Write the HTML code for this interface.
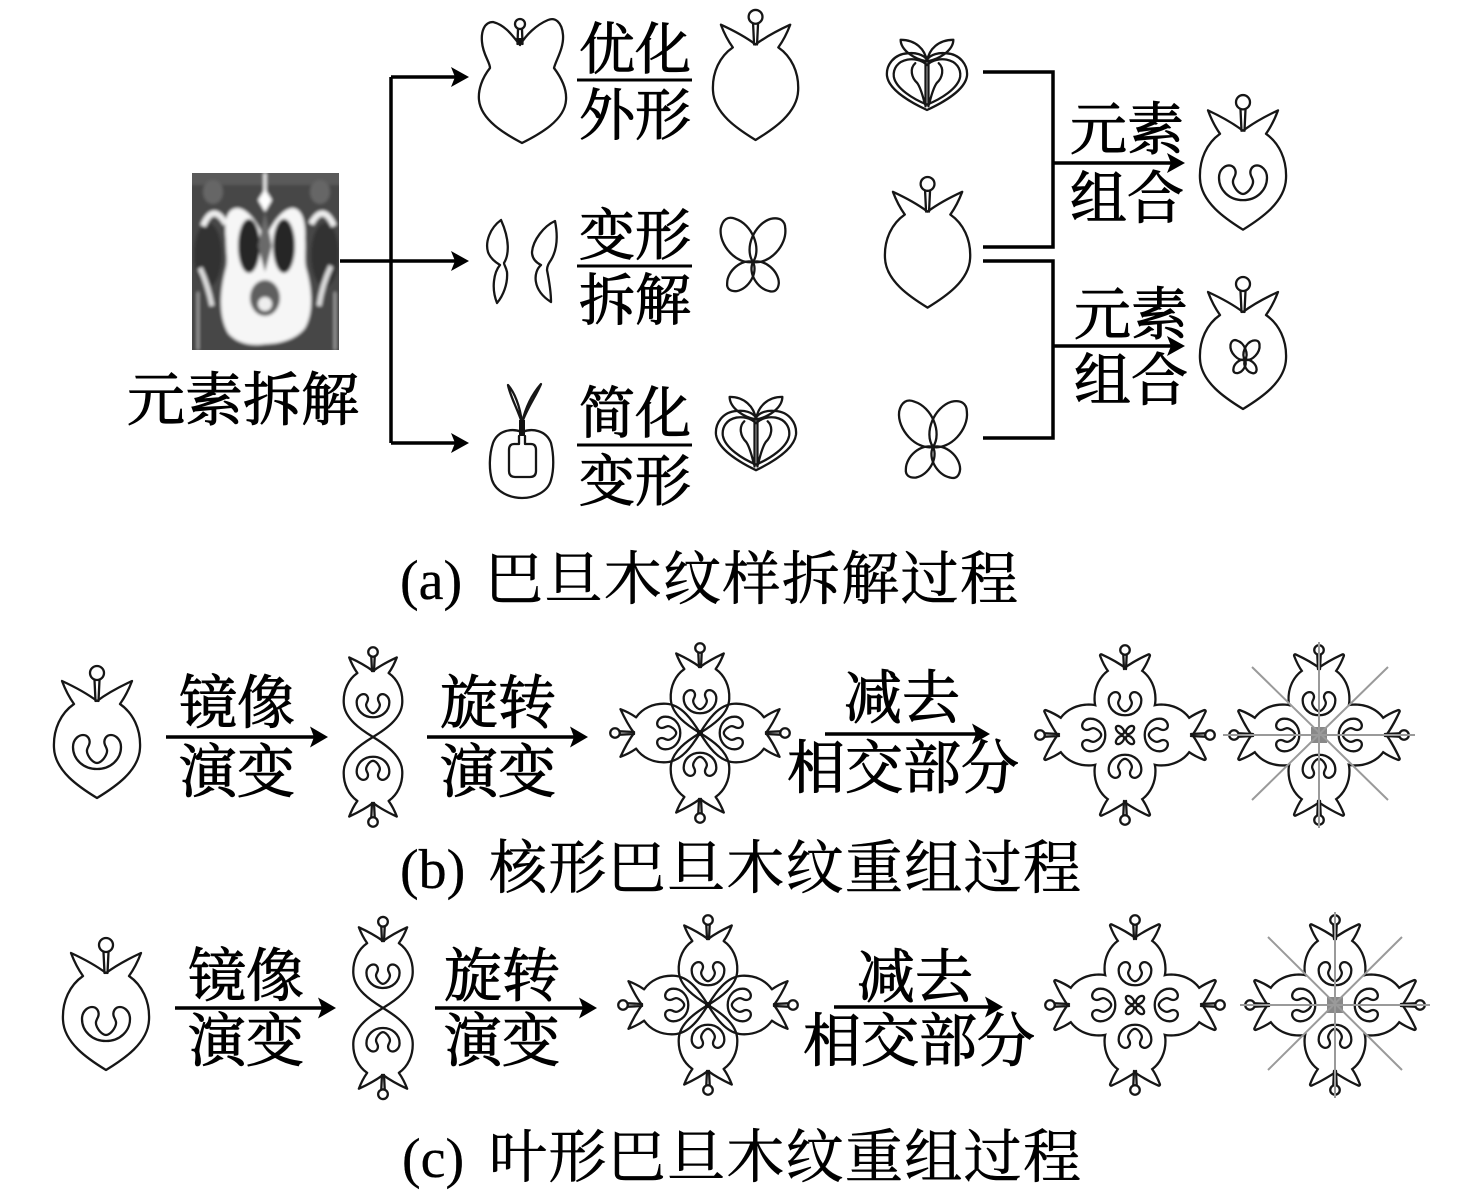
<!DOCTYPE html>
<html><head><meta charset="utf-8">
<style>
html,body{margin:0;padding:0;background:#fff;}
svg{display:block;}
.ln{fill:none;stroke:#161616;stroke-width:2.3;stroke-linejoin:round;stroke-linecap:round}
.wf{fill:#fff;stroke:none}
.th{fill:none;stroke:#161616;stroke-width:4.6;stroke-linejoin:round}
.bl{fill:none;stroke:#000;stroke-width:3.5}
.ah{fill:#000;stroke:none}
.t{font-family:"Liberation Serif","Noto Serif CJK SC",serif;fill:#000;stroke:#000;stroke-width:1}
.c{font-family:"Liberation Serif","Noto Serif CJK SC",serif;fill:#000;stroke:#000;stroke-width:0.6}
.gl{stroke:#9a9a9a;stroke-width:2;fill:none}
</style></head>
<body>
<svg width="1464" height="1204" viewBox="0 0 1464 1204" xmlns="http://www.w3.org/2000/svg">
<defs>
  <path id="fo" vector-effect="non-scaling-stroke" d="M44,38 C36,32 22,24 9,18 C12,26 16,34 21,41 C8,50 0,66 1,85 C2,108 26,124 44,135 C62,124 86,108 87,85 C88,66 80,50 67,41 C72,34 76,26 79,18 C66,24 52,32 44,38 Z"/>
  <g id="stem">
    <circle vector-effect="non-scaling-stroke" cx="44" cy="10" r="7"/>
    <path vector-effect="non-scaling-stroke" d="M41.5,17 L42.5,38 M46.5,17 L45.5,38"/>
  </g>
  <path id="curl" vector-effect="non-scaling-stroke" d="M44,106 C30,106 20,96 20,84 C20,76 26,72 30,72 C35,72 38,77 36,82 C34,86 33,88 35,92 C38,98 42,100 44,100 C46,100 50,98 53,92 C55,88 54,86 52,82 C50,77 53,72 58,72 C62,72 68,76 68,84 C68,96 58,106 44,106 Z"/>
  <g id="fruit"><use href="#fo"/><use href="#stem"/></g>
  <g id="fruitc"><use href="#fo"/><use href="#stem"/><use href="#curl"/></g>
  <path id="pt" vector-effect="non-scaling-stroke" d="M0,0 C6,-14 30,-18 42,-8 C48,-2 48,4 42,8 C30,18 6,14 0,0 Z"/>
  <g id="bfly">
    <use href="#pt" transform="rotate(-123) scale(1.09)"/>
    <use href="#pt" transform="rotate(-57) scale(1.09)"/>
    <use href="#pt" transform="rotate(130) scale(0.78)"/>
    <use href="#pt" transform="rotate(50) scale(0.78)"/>
  </g>
  <g id="heart">
    <path vector-effect="non-scaling-stroke" d="M42,26 C30,24 15,14 15,2 C30,2 40,12 42,26 Z"/>
    <path vector-effect="non-scaling-stroke" d="M42,26 C54,24 69,14 69,2 C54,2 44,12 42,26 Z"/>
    <path vector-effect="non-scaling-stroke" d="M42,24 C38,18 30,16 22,17 C8,18 0,30 1,42 C3,58 26,72 42,80 C58,72 81,58 83,42 C84,30 76,18 62,17 C54,16 46,18 42,24 Z"/>
    <path vector-effect="non-scaling-stroke" d="M42,30 C36,24 28,23 22,24 C12,26 7,34 8,43 C10,56 28,68 42,74 C56,68 74,56 76,43 C77,34 72,26 62,24 C56,23 48,24 42,30 Z"/>
    <path vector-effect="non-scaling-stroke" d="M30,28 C24,34 26,44 32,50 C36,56 38,66 40,74 M54,28 C60,34 58,44 52,50 C48,56 46,66 44,74 M40.5,28 V76 M43.5,28 V76"/>
  </g>
  <clipPath id="pc"><rect x="192" y="173" width="147" height="177"/></clipPath>
  <filter id="blur" x="-5%" y="-5%" width="110%" height="110%"><feGaussianBlur stdDeviation="1.6"/></filter>
</defs>

<!-- ================= (a) ================= -->
<g clip-path="url(#pc)">
 <g filter="url(#blur)">
  <rect x="188" y="169" width="155" height="185" fill="#464646"/>
  <rect x="188" y="169" width="155" height="16" fill="#5a5a5a"/>
  <ellipse cx="208" cy="255" rx="14" ry="32" fill="#333"/>
  <ellipse cx="325" cy="255" rx="14" ry="32" fill="#333"/>
  <ellipse cx="213" cy="192" rx="10" ry="12" fill="#666"/>
  <ellipse cx="320" cy="192" rx="10" ry="12" fill="#666"/>
  <path d="M203,226 Q213,202 226,224" stroke="#eee" stroke-width="6" fill="none"/>
  <path d="M311,224 Q323,202 334,226" stroke="#eee" stroke-width="6" fill="none"/>
  <path d="M200,268 Q208,285 212,306" stroke="#ddd" stroke-width="5" fill="none"/>
  <path d="M331,266 Q322,285 319,306" stroke="#ddd" stroke-width="5" fill="none"/>
  <path d="M198,292 V350 M335,292 V350" stroke="#aaa" stroke-width="2"/>
  <path d="M265,238 C258,225 250,210 238,208 C226,208 224,222 226,240 C226,252 228,260 226,268 C220,290 218,315 228,333 C238,345 255,346 265,344 C278,344 296,340 305,328 C314,312 312,288 306,268 C304,258 306,250 305,238 C306,222 302,208 292,208 C280,210 272,225 265,238 Z" fill="#f6f6f6"/>
  <path d="M265,173 V205" stroke="#eee" stroke-width="3"/>
  <polygon points="265,189 272,200 265,212 258,200" fill="#fff"/>
  <ellipse cx="249" cy="246" rx="11" ry="27" fill="#262626"/>
  <ellipse cx="284" cy="246" rx="11" ry="27" fill="#262626"/>
  <path d="M265,212 L258,246 L265,272 L272,246 Z" fill="#6a6a6a"/>
  <ellipse cx="265" cy="298" rx="15" ry="18" fill="#5e5e5e"/>
  <ellipse cx="265" cy="304" rx="7" ry="7" fill="#eee"/>
 </g>
</g>

<path class="bl" d="M340,261 H458 M391,77 V443 M391,77 H458 M391,443 H458"/>
<polygon class="ah" points="451,251 469,261 451,271 455,261"/>
<polygon class="ah" points="451,67 469,77 451,87 455,77"/>
<polygon class="ah" points="451,433 469,443 451,453 455,443"/>

<g class="ln">
  <path d="M520,45 C512,35 505,25 493,22 C484,22 481,32 482,42 C483,55 490,62 490,68 C482,78 478,90 479,100 C481,120 505,134 522,143 C540,134 565,120 566,100 C567,88 560,76 554,68 C556,60 564,48 563,35 C562,22 555,17 548,20 C536,25 526,35 520,45 Z"/>
  <circle cx="520" cy="24" r="5"/>
  <path d="M518,29 L517.5,44 M522,29 L522.5,44"/>
  <path d="M501,220 C490,228 485,242 488,252 C490,258 495,262 500,265 C494,272 491,288 497,303 C503,296 508,284 507,272 C506,267 504,265 504,263 C509,255 510,240 501,220 Z"/>
  <path d="M555,221 C544,226 533,240 532,252 C532,259 537,263 541,265 C533,272 532,290 551,302 C551,292 549,280 547,270 C547,266 549,263 551,260 C557,250 558,236 555,221 Z"/>
  <path d="M522,423 C518,410 510,396 508,385 C514,392 520,405 522,423 Z"/>
  <path d="M522,423 C526,410 536,396 541,384 C534,392 526,405 522,423 Z"/>
  <path d="M522,432 C512,428 498,430 493,443 C489,455 489,470 492,480 C496,492 510,498 522,498 C534,498 548,492 551,480 C554,470 554,455 551,443 C546,430 532,428 522,432 Z"/>
  <path d="M519,436 V444 H514 Q509,444 509,450 V471 Q509,477 515,477 H530 Q536,477 536,471 V450 Q536,444 531,444 H525 V436"/>
</g>
<polygon points="516,38 524,38 520,46" fill="#111"/>
<rect x="519" y="420" width="6" height="16" fill="#111"/>

<g class="ln">
  <use href="#fruit" transform="translate(712,7) scale(0.99,0.985)"/>
  <use href="#bfly" transform="translate(753,262)"/>
  <use href="#heart" transform="translate(715,395) scale(0.976,0.94)"/>
</g>

<g class="t" font-size="56" text-anchor="middle">
  <text x="635" y="69">优化</text>
  <text x="635" y="135">外形</text>
  <text x="635" y="255">变形</text>
  <text x="635" y="320">拆解</text>
  <text x="635" y="433">简化</text>
  <text x="635" y="501">变形</text>
</g>
<path d="M577,80 H692 M577,266 H692 M577,445 H692" stroke="#000" stroke-width="3"/>
<text class="t" font-size="58" x="243" y="420" text-anchor="middle">元素拆解</text>

<g class="ln">
  <use href="#heart" transform="translate(886,38) scale(0.976,0.9)"/>
  <use href="#fruit" transform="translate(884,174) scale(0.99,0.99)"/>
  <use href="#bfly" transform="translate(933,447) scale(1.05)"/>
  <use href="#fruitc" transform="translate(1199,92) scale(1,1.02)"/>
  <use href="#fruit" transform="translate(1199,274) scale(1,1)"/>
  <use href="#bfly" transform="translate(1245,360) scale(0.45)"/>
</g>
<path class="bl" d="M983,72 H1053 V247 H983 M983,261 H1053 V438 H983 M1053,163 H1172 M1053,346 H1172"/>
<polygon class="ah" points="1167,153 1185,163 1167,173 1171,163"/>
<polygon class="ah" points="1167,336 1185,346 1167,356 1171,346"/>
<g class="t" font-size="57" text-anchor="middle">
  <text x="1127" y="149">元素</text>
  <text x="1127" y="218">组合</text>
  <text x="1131" y="334">元素</text>
  <text x="1131" y="400">组合</text>
</g>

<text class="c" font-size="56" x="400" y="599" style="stroke-width:0.3">(a)</text>
<text class="c" font-size="58" x="485" y="599" textLength="533" lengthAdjust="spacing">巴旦木纹样拆解过程</text>

<!-- ================= (b) ================= -->
<g class="ln">
  <use href="#fruitc" transform="translate(53,663)"/>
  <use href="#fruitc" transform="translate(373,737) rotate(0) scale(0.68) translate(-44,-135)"/>
  <use href="#fruitc" transform="translate(373,737) rotate(180) scale(0.68) translate(-44,-135)"/>
  <use href="#fruitc" transform="translate(700,733) rotate(0) scale(0.68) translate(-44,-135)"/>
  <use href="#fruitc" transform="translate(700,733) rotate(90) scale(0.68) translate(-44,-135)"/>
  <use href="#fruitc" transform="translate(700,733) rotate(180) scale(0.68) translate(-44,-135)"/>
  <use href="#fruitc" transform="translate(700,733) rotate(270) scale(0.68) translate(-44,-135)"/>
</g>
<circle cx="700" cy="733" r="3" fill="#111"/>

<g class="th">
  <use href="#fo" transform="translate(1125,735) rotate(0) scale(0.68) translate(-44,-135)"/>
  <use href="#fo" transform="translate(1125,735) rotate(90) scale(0.68) translate(-44,-135)"/>
  <use href="#fo" transform="translate(1125,735) rotate(180) scale(0.68) translate(-44,-135)"/>
  <use href="#fo" transform="translate(1125,735) rotate(270) scale(0.68) translate(-44,-135)"/>
</g>
<g class="wf">
  <use href="#fo" transform="translate(1125,735) rotate(0) scale(0.68) translate(-44,-135)"/>
  <use href="#fo" transform="translate(1125,735) rotate(90) scale(0.68) translate(-44,-135)"/>
  <use href="#fo" transform="translate(1125,735) rotate(180) scale(0.68) translate(-44,-135)"/>
  <use href="#fo" transform="translate(1125,735) rotate(270) scale(0.68) translate(-44,-135)"/>
</g>
<g class="ln">
  <g transform="translate(1125,735) rotate(0) scale(0.68) translate(-44,-135)"><use href="#stem"/><use href="#curl"/></g>
  <g transform="translate(1125,735) rotate(90) scale(0.68) translate(-44,-135)"><use href="#stem"/><use href="#curl"/></g>
  <g transform="translate(1125,735) rotate(180) scale(0.68) translate(-44,-135)"><use href="#stem"/><use href="#curl"/></g>
  <g transform="translate(1125,735) rotate(270) scale(0.68) translate(-44,-135)"><use href="#stem"/><use href="#curl"/></g>
  <g transform="translate(1125,735)">
    <ellipse cx="5" cy="-5" rx="5" ry="3" transform="rotate(-45 5 -5)"/>
    <ellipse cx="-5" cy="-5" rx="5" ry="3" transform="rotate(45 -5 -5)"/>
    <ellipse cx="5" cy="5" rx="5" ry="3" transform="rotate(45 5 5)"/>
    <ellipse cx="-5" cy="5" rx="5" ry="3" transform="rotate(-45 -5 5)"/>
  </g>
</g>

<g class="th">
  <use href="#fo" transform="translate(1319,735) rotate(0) scale(0.68) translate(-44,-135)"/>
  <use href="#fo" transform="translate(1319,735) rotate(90) scale(0.68) translate(-44,-135)"/>
  <use href="#fo" transform="translate(1319,735) rotate(180) scale(0.68) translate(-44,-135)"/>
  <use href="#fo" transform="translate(1319,735) rotate(270) scale(0.68) translate(-44,-135)"/>
</g>
<g class="wf">
  <use href="#fo" transform="translate(1319,735) rotate(0) scale(0.68) translate(-44,-135)"/>
  <use href="#fo" transform="translate(1319,735) rotate(90) scale(0.68) translate(-44,-135)"/>
  <use href="#fo" transform="translate(1319,735) rotate(180) scale(0.68) translate(-44,-135)"/>
  <use href="#fo" transform="translate(1319,735) rotate(270) scale(0.68) translate(-44,-135)"/>
</g>
<g class="ln">
  <g transform="translate(1319,735) rotate(0) scale(0.68) translate(-44,-135)"><use href="#stem"/><use href="#curl"/></g>
  <g transform="translate(1319,735) rotate(90) scale(0.68) translate(-44,-135)"><use href="#stem"/><use href="#curl"/></g>
  <g transform="translate(1319,735) rotate(180) scale(0.68) translate(-44,-135)"><use href="#stem"/><use href="#curl"/></g>
  <g transform="translate(1319,735) rotate(270) scale(0.68) translate(-44,-135)"><use href="#stem"/><use href="#curl"/></g>
</g>
<rect x="1311" y="727" width="16" height="16" fill="#888"/>
<path class="gl" d="M1223,735 H1415 M1319,642 V828 M1252,667 L1388,800 M1388,667 L1252,800"/>

<path class="bl" d="M166,737 H315 M427,737 H575 M825,734 H977"/>
<polygon class="ah" points="310,726.5 328,737 310,747.5 314,737"/>
<polygon class="ah" points="570,726.5 588,737 570,747.5 574,737"/>
<polygon class="ah" points="972,723.5 990,734 972,744.5 976,734"/>
<g class="t" font-size="58" text-anchor="middle">
  <text x="237" y="723">镜像</text>
  <text x="237" y="792">演变</text>
  <text x="498" y="723">旋转</text>
  <text x="498" y="792">演变</text>
  <text x="902" y="718">减去</text>
  <text x="903" y="788">相交部分</text>
</g>
<text class="c" font-size="56" x="400" y="888" style="stroke-width:0.3">(b)</text>
<text class="c" font-size="58" x="489" y="888" textLength="592" lengthAdjust="spacing">核形巴旦木纹重组过程</text>

<!-- ================= (c) ================= -->
<g class="ln">
  <use href="#fruitc" transform="translate(62,935)"/>
  <use href="#fruitc" transform="translate(383,1008) rotate(0) scale(0.69) translate(-44,-135)"/>
  <use href="#fruitc" transform="translate(383,1008) rotate(180) scale(0.69) translate(-44,-135)"/>
  <use href="#fruitc" transform="translate(708,1005) rotate(0) scale(0.68) translate(-44,-135)"/>
  <use href="#fruitc" transform="translate(708,1005) rotate(90) scale(0.68) translate(-44,-135)"/>
  <use href="#fruitc" transform="translate(708,1005) rotate(180) scale(0.68) translate(-44,-135)"/>
  <use href="#fruitc" transform="translate(708,1005) rotate(270) scale(0.68) translate(-44,-135)"/>
</g>
<circle cx="708" cy="1005" r="3" fill="#111"/>

<g class="th">
  <use href="#fo" transform="translate(1135,1005) rotate(0) scale(0.68) translate(-44,-135)"/>
  <use href="#fo" transform="translate(1135,1005) rotate(90) scale(0.68) translate(-44,-135)"/>
  <use href="#fo" transform="translate(1135,1005) rotate(180) scale(0.68) translate(-44,-135)"/>
  <use href="#fo" transform="translate(1135,1005) rotate(270) scale(0.68) translate(-44,-135)"/>
</g>
<g class="wf">
  <use href="#fo" transform="translate(1135,1005) rotate(0) scale(0.68) translate(-44,-135)"/>
  <use href="#fo" transform="translate(1135,1005) rotate(90) scale(0.68) translate(-44,-135)"/>
  <use href="#fo" transform="translate(1135,1005) rotate(180) scale(0.68) translate(-44,-135)"/>
  <use href="#fo" transform="translate(1135,1005) rotate(270) scale(0.68) translate(-44,-135)"/>
</g>
<g class="ln">
  <g transform="translate(1135,1005) rotate(0) scale(0.68) translate(-44,-135)"><use href="#stem"/><use href="#curl"/></g>
  <g transform="translate(1135,1005) rotate(90) scale(0.68) translate(-44,-135)"><use href="#stem"/><use href="#curl"/></g>
  <g transform="translate(1135,1005) rotate(180) scale(0.68) translate(-44,-135)"><use href="#stem"/><use href="#curl"/></g>
  <g transform="translate(1135,1005) rotate(270) scale(0.68) translate(-44,-135)"><use href="#stem"/><use href="#curl"/></g>
  <g transform="translate(1135,1005)">
    <ellipse cx="5" cy="-5" rx="5" ry="3" transform="rotate(-45 5 -5)"/>
    <ellipse cx="-5" cy="-5" rx="5" ry="3" transform="rotate(45 -5 -5)"/>
    <ellipse cx="5" cy="5" rx="5" ry="3" transform="rotate(45 5 5)"/>
    <ellipse cx="-5" cy="5" rx="5" ry="3" transform="rotate(-45 -5 5)"/>
  </g>
</g>

<g class="th">
  <use href="#fo" transform="translate(1335,1005) rotate(0) scale(0.68) translate(-44,-135)"/>
  <use href="#fo" transform="translate(1335,1005) rotate(90) scale(0.68) translate(-44,-135)"/>
  <use href="#fo" transform="translate(1335,1005) rotate(180) scale(0.68) translate(-44,-135)"/>
  <use href="#fo" transform="translate(1335,1005) rotate(270) scale(0.68) translate(-44,-135)"/>
</g>
<g class="wf">
  <use href="#fo" transform="translate(1335,1005) rotate(0) scale(0.68) translate(-44,-135)"/>
  <use href="#fo" transform="translate(1335,1005) rotate(90) scale(0.68) translate(-44,-135)"/>
  <use href="#fo" transform="translate(1335,1005) rotate(180) scale(0.68) translate(-44,-135)"/>
  <use href="#fo" transform="translate(1335,1005) rotate(270) scale(0.68) translate(-44,-135)"/>
</g>
<g class="ln">
  <g transform="translate(1335,1005) rotate(0) scale(0.68) translate(-44,-135)"><use href="#stem"/><use href="#curl"/></g>
  <g transform="translate(1335,1005) rotate(90) scale(0.68) translate(-44,-135)"><use href="#stem"/><use href="#curl"/></g>
  <g transform="translate(1335,1005) rotate(180) scale(0.68) translate(-44,-135)"><use href="#stem"/><use href="#curl"/></g>
  <g transform="translate(1335,1005) rotate(270) scale(0.68) translate(-44,-135)"><use href="#stem"/><use href="#curl"/></g>
</g>
<rect x="1327" y="997" width="16" height="16" fill="#888"/>
<path class="gl" d="M1240,1005 H1430 M1335,912 V1098 M1268,937 L1402,1070 M1402,937 L1268,1070"/>

<path class="bl" d="M175,1008 H323 M435,1008 H584 M834,1007 H990"/>
<polygon class="ah" points="318,997.5 336,1008 318,1018.5 322,1008"/>
<polygon class="ah" points="579,997.5 597,1008 579,1018.5 583,1008"/>
<polygon class="ah" points="985,996.5 1003,1007 985,1017.5 989,1007"/>
<g class="t" font-size="58" text-anchor="middle">
  <text x="246" y="996">镜像</text>
  <text x="246" y="1061">演变</text>
  <text x="502" y="996">旋转</text>
  <text x="502" y="1061">演变</text>
  <text x="915" y="997">减去</text>
  <text x="919" y="1061">相交部分</text>
</g>
<text class="c" font-size="56" x="402" y="1177" style="stroke-width:0.3">(c)</text>
<text class="c" font-size="58" x="489" y="1177" textLength="592" lengthAdjust="spacing">叶形巴旦木纹重组过程</text>
</svg>
</body></html>
